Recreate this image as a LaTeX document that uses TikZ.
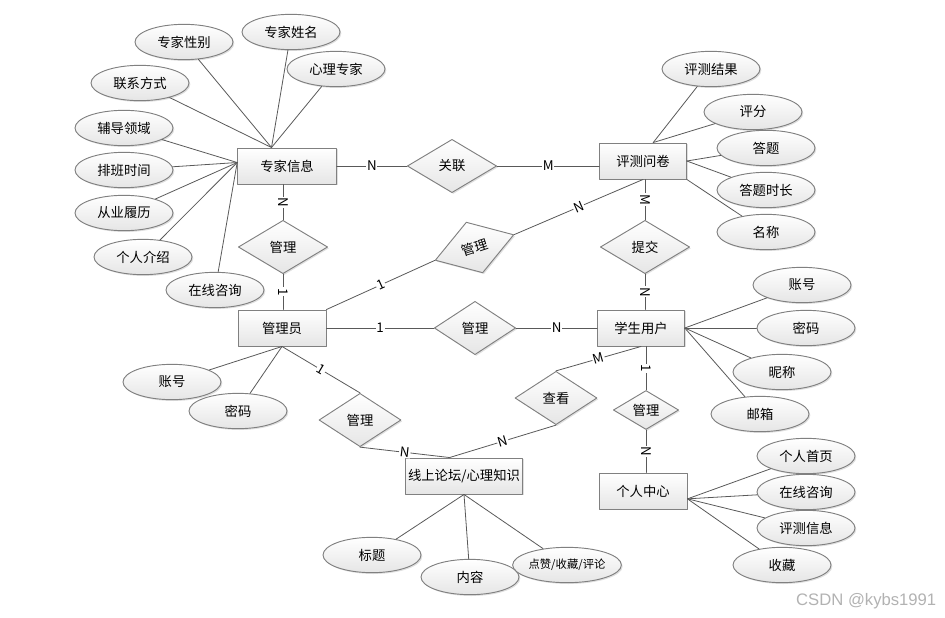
\documentclass[tikz,border=0pt]{standalone}
\usepackage{fontspec}
\newfontfamily\cjk{Noto Sans CJK SC}
\newfontfamily\wmfont{Liberation Sans}
\usetikzlibrary{shapes.geometric,shadows}

\tikzset{
  box/.style={draw=black!50, line width=0.7pt, top color=white, bottom color=black!10,
    inner sep=0pt, drop shadow={opacity=0.25,shadow xshift=1pt,shadow yshift=-1pt}},
  entity/.style={box, rectangle, minimum width=66pt, minimum height=27pt},
  attr/.style={box, ellipse, minimum width=73.5pt, minimum height=26.5pt},
  rel/.style={box, diamond, minimum width=67pt, minimum height=40pt},
  link/.style={draw=black!65, line width=0.6pt},
  card/.style={fill=white, inner sep=0.6pt, font=\cjk\fontsize{10}{11}\selectfont},
}

\begin{document}
\begin{tikzpicture}[x=0.75pt,y=-0.75pt,line cap=round,line join=round,
  every node/.append style={font=\cjk\fontsize{10}{12}\selectfont}]

\useasboundingbox (0,0) rectangle (945,617);

% entities
\node[entity,minimum width=74pt] (zj) at (287,166) {专家信息};
\node[entity,minimum width=65pt] (pw) at (643,161) {评测问卷};
\node[entity] (gly) at (282,328) {管理员};
\node[entity,minimum width=65pt] (xs) at (641,328) {学生用户};
\node[entity,minimum width=88pt] (lt) at (464,476) {线上论坛/心理知识};
\node[entity] (gr) at (643,491) {个人中心};

% relations
\node[rel] (gl) at (452,166) {关联};
\node[rel] (gm1) at (283,247) {管理};
\node[rel,minimum width=62pt,rotate=18] (gm2) at (474.5,247.5) {管理};
\node[rel,minimum width=61pt] (gm3) at (475,328) {管理};
\node[rel] (tj) at (645,247) {提交};
\node[rel,minimum width=61.5pt] (gm4) at (360,420) {管理};
\node[rel,minimum width=61.5pt] (ck) at (556,398) {查看};
\node[rel,minimum width=49pt,minimum height=28.5pt] (gm5) at (646,410) {管理};

% attributes
\node[attr] (xb) at (184,42) {专家性别};
\node[attr] (xm) at (291,32) {专家姓名};
\node[attr] (xl) at (336,69) {心理专家};
\node[attr] (lx) at (140,83) {联系方式};
\node[attr] (fd) at (124,128) {辅导领域};
\node[attr] (pb) at (124,170) {排班时间};
\node[attr] (cy) at (124,213) {从业履历};
\node[attr] (js) at (143,257) {个人介绍};
\node[attr] (zx) at (215,290) {在线咨询};

\node[attr] (jg) at (711,69) {评测结果};
\node[attr] (pf) at (753,112) {评分};
\node[attr] (dt) at (766,148) {答题};
\node[attr] (sc) at (766,190) {答题时长};
\node[attr] (mc) at (766,232) {名称};

\node[attr] (zh2) at (802,285) {账号};
\node[attr] (mm2) at (806,328) {密码};
\node[attr] (nc) at (782,372) {昵称};
\node[attr] (yx) at (760,414) {邮箱};

\node[attr] (sy) at (806,456) {个人首页};
\node[attr] (zx2) at (806,492) {在线咨询};
\node[attr] (px) at (806,528) {评测信息};
\node[attr] (shc) at (782,565) {收藏};

\node[attr] (zh1) at (172,382) {账号};
\node[attr] (mm1) at (238,411) {密码};

\node[attr] (bt) at (372,555) {标题};
\node[attr] (nr) at (470,577) {内容};
\node[attr,font=\cjk\fontsize{8.5}{10}\selectfont] (dz) at (567,565) {点赞/收藏/评论};

% attribute links
\foreach \a in {xb,xm,xl,lx} \draw[link] (zj.130) -- (\a);
\foreach \a in {fd,pb,cy,js,zx} \draw[link] (zj.176) -- (\a);
\foreach \a in {jg,pf} \draw[link] (pw.61) -- (\a);
\foreach \a in {dt,sc} \draw[link] (pw.east) -- (\a);
\draw[link] (pw.south east) -- (mc);
\foreach \a in {zh2,mm2,nc,yx} \draw[link] (xs.east) -- (\a);
\foreach \a in {sy,zx2,px,shc} \draw[link] (gr.-10) -- (\a);
\foreach \a in {zh1,mm1} \draw[link] (gly.south) -- (\a);
\foreach \a in {bt,nr,dz} \draw[link] (lt.south) -- (\a);

% relation links
\draw[link] (zj.east) -- node[card] {N} (gl.west);
\draw[link] (gl.east) -- node[card] {M} (gl.east -| pw.west);
\draw[link] (zj.south -| gm1.north) -- node[card,sloped] {N} (gm1.north);
\draw[link] (gm1.south) -- node[card,sloped] {1} (gm1.south |- gly.north);
\draw[link] (gly.north east) -- node[card,sloped] {1} (gm2.west);
\draw[link] (gm2.east) -- node[card,sloped] {N} (pw.south);
\draw[link] (gly.east) -- node[card] {1} (gm3.west);
\draw[link] (gm3.east) -- node[card] {N} (gm3.east -| xs.west);
\draw[link] (pw.south -| tj.north) -- node[card,sloped] {M} (tj.north);
\draw[link] (tj.south) -- node[card,sloped] {N} (tj.south |- xs.north);
\draw[link] (gly.south) -- node[card,sloped] {1} (gm4.north);
\draw[link] (gm4.south) -- node[card,sloped] {N} (lt.128);
\draw[link] (lt.128) -- node[card,sloped] {N} (ck.south);
\draw[link] (ck.north) -- node[card,sloped] {M} (xs.south);
\draw[link] (xs.south -| gm5.north) -- node[card,sloped] {1} (gm5.north);
\draw[link] (gm5.south) -- node[card,sloped] {N} (gm5.south |- gr.north);

\node[anchor=east,text=black!30,font=\wmfont\fontsize{12.5}{14}\selectfont] (wm) at (941,601) {CSDN @kybs1991};

\end{tikzpicture}
\end{document}
